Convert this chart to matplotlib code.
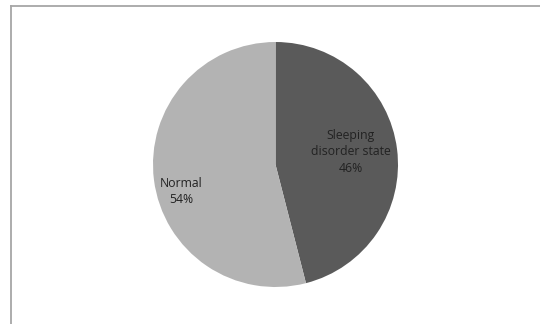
import numpy as np
import matplotlib
matplotlib.use("Agg")
import matplotlib.pyplot as plt
from matplotlib.lines import Line2D

categories = ["Sleeping disorder state", "Normal"]
label_text = ["Sleeping\ndisorder state", "Normal"]
values = [46, 54]
colors = ["#5a5a5a", "#b3b3b3"]

W, H = 540, 324
fig = plt.figure(figsize=(W / 100, H / 100), dpi=100)
ax = fig.add_axes([0, 0, 1, 1])

center = (275.5, H - 164.5)
radius = 122.5
wedges, _ = ax.pie(values, colors=colors, startangle=90, counterclock=False,
                   center=center, radius=radius,
                   wedgeprops=dict(linewidth=0), frame=True)
ax.set_xlim(0, W)
ax.set_ylim(0, H)
ax.set_aspect("equal")
ax.axis("off")

total = sum(values)
label_dist = [0.62, 0.80]
label_shift = [2.3, 8.8]
for w, lab, v, d, s in zip(wedges, label_text, values, label_dist, label_shift):
    ang = np.deg2rad((w.theta1 + w.theta2) / 2 + s)
    x = center[0] + d * radius * np.cos(ang)
    y = center[1] + d * radius * np.sin(ang)
    ax.text(x, y, f"{lab}\n{v / total * 100:.0f}%", ha="center", va="center",
            fontsize=8.8, family="Open Sans", color="#222222", linespacing=1.35)

# chart area border (top and left edges visible)
fig.add_artist(Line2D([10.5 / W, 1], [1 - 5.5 / H, 1 - 5.5 / H],
                      transform=fig.transFigure, color="#a6a6a6", lw=1.3))
fig.add_artist(Line2D([10.5 / W, 10.5 / W], [0, 1 - 5.5 / H],
                      transform=fig.transFigure, color="#a6a6a6", lw=1.3))

fig.savefig("out.png", dpi=100)
